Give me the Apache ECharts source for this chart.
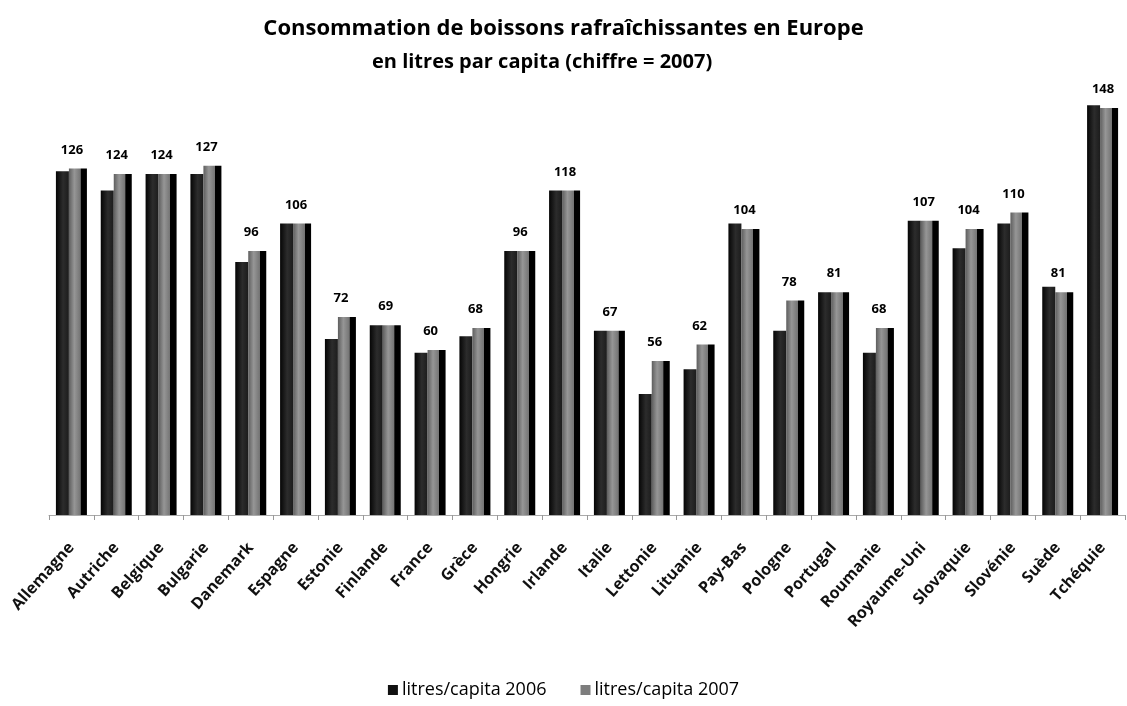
<!DOCTYPE html>
<html>
<head>
<meta charset="utf-8">
<script src="https://cdn.jsdelivr.net/npm/echarts@6/dist/echarts.min.js"></script>
<style>
  html, body { margin: 0; padding: 0; background: #fff; }
  #chart { width: 1127px; height: 706px; }
</style>
</head>
<body>
<div id="chart"></div>
<script>
// Soft drink consumption per country, litres per capita
const categories = ['Allemagne', 'Autriche', 'Belgique', 'Bulgarie', 'Danemark', 'Espagne', 'Estonie',
  'Finlande', 'France', 'Grèce', 'Hongrie', 'Irlande', 'Italie', 'Lettonie', 'Lituanie', 'Pay-Bas',
  'Pologne', 'Portugal', 'Roumanie', 'Royaume-Uni', 'Slovaquie', 'Slovénie', 'Suède', 'Tchéquie'];

const litres2006 = [125, 118, 124, 124, 92, 106, 64, 69, 59, 65, 96, 118, 67, 44, 53, 106, 67, 81, 59, 107, 97, 106, 83, 149];
const litres2007 = [126, 124, 124, 127, 96, 106, 72, 69, 60, 68, 96, 118, 67, 56, 62, 104, 78, 81, 68, 107, 104, 110, 81, 148];

const seriesNames = ['litres/capita 2006', 'litres/capita 2007'];

const FONT = '"Open Sans", "DejaVu Sans", sans-serif';

const chart = echarts.init(document.getElementById('chart'), null, { renderer: 'canvas' });

chart.setOption({
  backgroundColor: '#ffffff',
  animation: false,
  title: [
    {
      text: 'Consommation de boissons rafraîchissantes en Europe',
      left: 'center',
      top: 13,
      textStyle: { fontFamily: FONT, fontSize: 22, fontWeight: 'bold', color: '#000' }
    },
    {
      text: 'en litres par capita (chiffre = 2007)',
      left: 372,
      top: 52,
      padding: 0,
      textStyle: { fontFamily: FONT, fontSize: 20, fontWeight: 'bold', color: '#000' }
    }
  ],
  legend: {
    bottom: 2,
    left: 'center',
    itemWidth: 10,
    itemHeight: 10,
    itemGap: 34,
    icon: 'rect',
    textStyle: { fontFamily: FONT, fontSize: 18, color: '#000', padding: [0, 0, 0, -1] },
    data: [
      { name: seriesNames[0], itemStyle: { color: '#111' } },
      { name: seriesNames[1], itemStyle: { color: '#7d7d7d' } }
    ]
  },
  grid: { left: 49, right: 2, top: 75, bottom: 191, containLabel: false },
  xAxis: {
    type: 'category',
    data: categories,
    axisLine: { lineStyle: { color: '#aaa', width: 1 } },
    axisTick: { show: true, length: 5, lineStyle: { color: '#999' } },
    axisLabel: {
      rotate: 48,
      margin: 30,
      interval: 0,
      fontFamily: FONT,
      fontSize: 16,
      fontWeight: 'bold',
      color: '#111'
    }
  },
  yAxis: {
    type: 'value',
    min: 0,
    max: 160,
    show: false,
    splitLine: { show: false }
  },
  series: [
    {
      name: seriesNames[0],
      type: 'bar',
      data: litres2006,
      barWidth: 13,
      barGap: 0,
      itemStyle: {
        color: new echarts.graphic.LinearGradient(0, 0, 1, 0, [
          { offset: 0, color: '#050505' },
          { offset: 0.55, color: '#2c2c2c' },
          { offset: 1, color: '#1c1c1c' }
        ])
      }
    },
    {
      name: seriesNames[1],
      type: 'bar',
      data: litres2007,
      barWidth: 18,
      barGap: 0,
      itemStyle: {
        color: new echarts.graphic.LinearGradient(0, 0, 1, 0, [
          { offset: 0, color: '#5e5e5e' },
          { offset: 0.3, color: '#969696' },
          { offset: 0.64, color: '#747474' },
          { offset: 0.66, color: '#000' },
          { offset: 1, color: '#000' }
        ])
      },
      label: {
        show: true,
        position: 'top',
        distance: 12,
        offset: [-6, 0],
        fontFamily: FONT,
        fontSize: 13,
        fontWeight: 'bold',
        color: '#000'
      }
    }
  ]
});
</script>
</body>
</html>
